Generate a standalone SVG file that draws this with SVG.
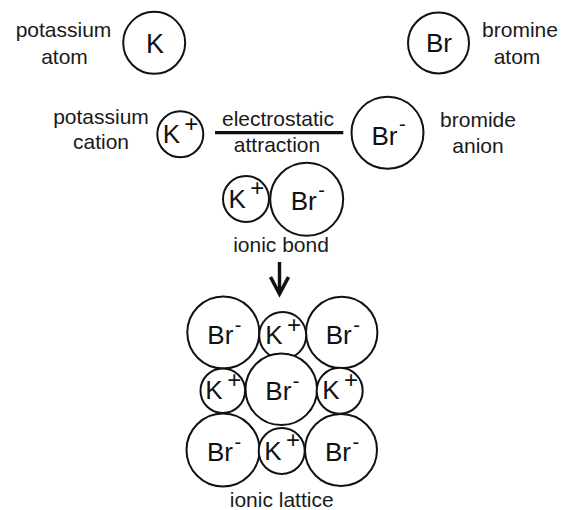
<svg xmlns="http://www.w3.org/2000/svg" width="563" height="510" viewBox="0 0 563 510">
<style>
.c{fill:#fff;stroke:#111;stroke-width:2}
.lbl{font-family:"Liberation Sans",Arial,sans-serif;font-size:21px;fill:#1a1a1a;text-anchor:middle}
.el{font-family:"Liberation Sans",Arial,sans-serif;fill:#111}
.big{font-size:26px;text-anchor:middle}
.k{font-size:26px}
.br{font-size:26px}
.conn{stroke:#111;fill:none}
</style>
<rect width="563" height="510" fill="#fff"/>
<g id="connectors">
<line class="conn" x1="215" y1="132.7" x2="343.3" y2="132.7" stroke-width="3.3"/>
<line class="conn" x1="279.5" y1="262" x2="279.5" y2="292" stroke-width="3.4"/>
<polyline class="conn" points="270.5,277 279.5,294 288.5,277" stroke-width="3.6"/>
</g>
<g id="potassium-atom">
<circle class="c" cx="154.2" cy="42.8" r="31"/>
<text class="el big" x="155" y="52.7" style="font-size:27px">K</text>
<text class="lbl" x="63.5" y="37">potassium</text>
<text class="lbl" x="64.5" y="63.5">atom</text>
</g>
<g id="bromine-atom">
<circle class="c" cx="438.5" cy="43" r="30.5"/>
<text class="el big" x="439" y="52">Br</text>
<text class="lbl" x="520" y="37">bromine</text>
<text class="lbl" x="517" y="63.5">atom</text>
</g>
<g id="potassium-cation">
<g transform="translate(180.3,134.2)">
<circle class="c" r="23"/>
<text class="el k" x="-17.5" y="9">K<tspan dx="4" dy="-11.5" font-size="24">+</tspan></text>
</g>
<text class="lbl" x="101" y="124">potassium</text>
<text class="lbl" x="101" y="149">cation</text>
</g>
<g id="attraction-label">
<text class="lbl" x="278" y="126">electrostatic</text>
<text class="lbl" x="277" y="152">attraction</text>
</g>
<g id="bromide-anion">
<g transform="translate(387.5,132.8)">
<circle class="c" r="36"/>
<text class="el br" x="-16" y="12">Br<tspan dx="1.5" dy="-13.5" font-size="20">-</tspan></text>
</g>
<text class="lbl" x="478" y="127">bromide</text>
<text class="lbl" x="478" y="153">anion</text>
</g>
<g id="ionic-bond">
<g transform="translate(306.7,199.3)">
<circle class="c" r="36.5"/>
<text class="el br" x="-16" y="11">Br<tspan dx="1.5" dy="-13" font-size="20">-</tspan></text>
</g>
<g transform="translate(246,199)">
<circle class="c" r="23"/>
<text class="el k" x="-17.5" y="8.8">K<tspan dx="4.5" dy="-11.5" font-size="24">+</tspan></text>
</g>
<text class="lbl" x="281" y="251.7">ionic bond</text>
</g>
<g id="ionic-lattice">
<g transform="translate(223.3,332.5)"><circle class="c" r="36"/><text class="el br" x="-16" y="11">Br<tspan dx="1.5" dy="-12" font-size="20">-</tspan></text></g>
<g transform="translate(341.7,332.5)"><circle class="c" r="35.7"/><text class="el br" x="-16" y="11">Br<tspan dx="1.5" dy="-12" font-size="20">-</tspan></text></g>
<g transform="translate(282.7,335.5)"><circle class="c" r="23.5"/><text class="el k" x="-17.5" y="8.5">K<tspan dx="4.5" dy="-11.5" font-size="24">+</tspan></text></g>
<g transform="translate(281.3,389.3)"><circle class="c" r="35.8"/><text class="el br" x="-16" y="11">Br<tspan dx="1.5" dy="-12" font-size="20">-</tspan></text></g>
<g transform="translate(222.8,390.8)"><circle class="c" r="22.3"/><text class="el k" x="-17.5" y="8.5">K<tspan dx="4.5" dy="-11.5" font-size="24">+</tspan></text></g>
<g transform="translate(339.7,390.8)"><circle class="c" r="23"/><text class="el k" x="-17.5" y="8.5">K<tspan dx="4.5" dy="-11.5" font-size="24">+</tspan></text></g>
<g transform="translate(223,450)"><circle class="c" r="36.5"/><text class="el br" x="-16" y="11">Br<tspan dx="1.5" dy="-12" font-size="20">-</tspan></text></g>
<g transform="translate(341,450)"><circle class="c" r="36"/><text class="el br" x="-16" y="11">Br<tspan dx="1.5" dy="-12" font-size="20">-</tspan></text></g>
<g transform="translate(281.7,451)"><circle class="c" r="23"/><text class="el k" x="-17.5" y="8.5">K<tspan dx="4.5" dy="-11.5" font-size="24">+</tspan></text></g>
<text class="lbl" x="281.7" y="507">ionic lattice</text>
</g>
</svg>
